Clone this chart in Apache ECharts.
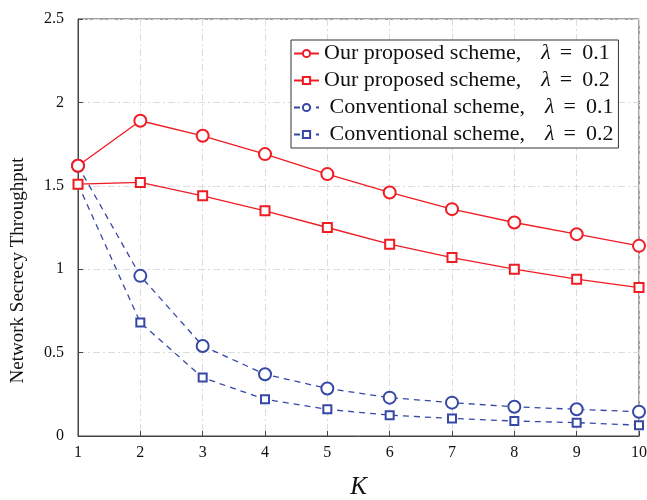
<!DOCTYPE html>
<html>
<head>
<meta charset="utf-8">
<script src="https://cdn.jsdelivr.net/npm/echarts@6/dist/echarts.min.js"></script>
<style>html,body{margin:0;padding:0;background:#fff}#c{width:647px;height:500px}</style>
</head>
<body>
<div id="c"></div>
<script>
var categories = ['1','2','3','4','5','6','7','8','9','10'];
var ourL1 = [1.62, 1.89, 1.80, 1.69, 1.57, 1.46, 1.36, 1.28, 1.21, 1.14];
var ourL2 = [1.51, 1.52, 1.44, 1.35, 1.25, 1.15, 1.07, 1.00, 0.94, 0.89];
var convL1 = [1.62, 0.96, 0.54, 0.37, 0.285, 0.23, 0.20, 0.175, 0.16, 0.145];
var convL2 = [1.51, 0.68, 0.35, 0.22, 0.16, 0.125, 0.105, 0.09, 0.08, 0.065];
var yTicks = [0, 0.5, 1, 1.5, 2, 2.5];
var seriesNames = ['Our proposed scheme,|0.1', 'Our proposed scheme,|0.2', ' Conventional scheme,|0.1', ' Conventional scheme,|0.2'];

var RED = '#f01c24', BLUE = '#3548a6';
var serif = '"Liberation Serif","DejaVu Serif",serif';
var chart = echarts.init(document.getElementById('c'));
function mk(name, data, color, sym, dashed, size) {
  return {
    name: name, type: 'line', data: data, symbol: sym, symbolSize: size,
    lineStyle: {color: color, width: 1.3, type: dashed ? [6, 5] : 'solid'},
    itemStyle: {color: color, borderColor: color, borderWidth: 1.2},
    showAllSymbol: true, z: dashed ? 2 : 3
  };
}
chart.setOption({
  animation: false,
  backgroundColor: '#fff',
  grid: {left: 78, right: 8, top: 19, bottom: 64, containLabel: false, outerBoundsMode: 'none',
    show: true, borderColor: '#444', borderWidth: 1},
  legend: {
    orient: 'vertical', left: 291, top: 40,
    data: seriesNames,
    backgroundColor: '#fff', borderColor: '#333', borderWidth: 1,
    padding: [0, 5, 0, 2], itemGap: 0, itemWidth: 25, itemHeight: 9,
    formatter: function (n) {
      var p = n.split('|');
      return '{a|' + p[0] + '}{l|λ}{m|=}{a|' + p[1] + '}';
    },
    textStyle: {
      fontFamily: serif, fontSize: 22, color: '#111', lineHeight: 27,
      rich: {
        a: {fontFamily: serif, fontSize: 22, color: '#111', lineHeight: 27},
        l: {fontFamily: serif, fontSize: 22, fontStyle: 'italic', color: '#111', lineHeight: 27, padding: [0, 0, 0, 20]},
        m: {fontFamily: serif, fontSize: 22, color: '#111', lineHeight: 27, padding: [0, 10, 0, 9]}
      }
    }
  },
  xAxis: {
    type: 'category', data: categories, boundaryGap: false,
    name: 'K', nameLocation: 'middle', nameGap: 39,
    nameTextStyle: {fontFamily: serif, fontStyle: 'italic', fontSize: 25, color: '#111'},
    axisLine: {lineStyle: {color: '#444', width: 1}},
    axisTick: {inside: true, length: 5, alignWithLabel: true, lineStyle: {color: '#444'}},
    axisLabel: {fontFamily: serif, fontSize: 16, color: '#111', margin: 9},
    splitLine: {show: true, lineStyle: {color: '#dcdcdc', type: [7, 3, 2, 3], width: 1}}
  },
  yAxis: {
    type: 'value', min: 0, max: 2.5, interval: 0.5,
    name: 'Network Secrecy Throughput', nameLocation: 'middle', nameGap: 50,
    nameTextStyle: {fontFamily: serif, fontSize: 19, color: '#111', padding: [0, 86, 0, 0]},
    axisLine: {show: true, lineStyle: {color: '#444', width: 1}},
    axisTick: {show: true, inside: true, length: 5, lineStyle: {color: '#444'}},
    axisLabel: {fontFamily: serif, fontSize: 16, color: '#111', margin: 14,
      formatter: function (v) { return yTicks.indexOf(v) >= 0 ? String(v) : ''; }},
    splitLine: {show: true, lineStyle: {color: '#dcdcdc', type: [7, 3, 2, 3], width: 1}}
  },
  series: [
    mk(seriesNames[0], ourL1, RED, 'emptyCircle', false, 12),
    mk(seriesNames[1], ourL2, RED, 'emptyRect', false, 9),
    mk(seriesNames[2], convL1, BLUE, 'emptyCircle', true, 12),
    mk(seriesNames[3], convL2, BLUE, 'emptyRect', true, 8)
  ]
});
</script>
</body>
</html>
